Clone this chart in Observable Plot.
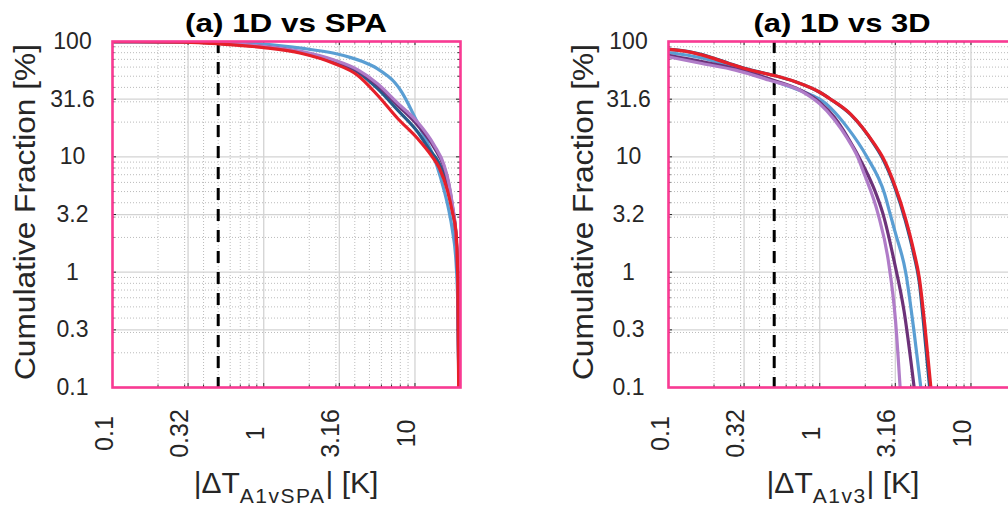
<!DOCTYPE html>
<html><head><meta charset="utf-8">
<script src="https://cdn.jsdelivr.net/npm/d3@7"></script>
<script src="https://cdn.jsdelivr.net/npm/@observablehq/plot@0.6"></script>
<style>
html,body{margin:0;padding:0;background:#fff;}
#wrap{position:relative;width:1008px;height:510px;overflow:hidden;background:#fff;font-family:"Liberation Sans",Arial,sans-serif;}
.panel{position:absolute;top:0;width:480px;height:510px;}
.panel svg{max-width:none !important;}
#overlay{position:absolute;left:0;top:0;pointer-events:none;}
</style></head><body>
<div id="wrap">
  <div id="p1" class="panel" style="left:0px"></div>
  <div id="p2" class="panel" style="left:556px"></div>
  <svg id="overlay" width="1008" height="510"></svg>
</div>
<script>
// ---------- ticks ----------
const xTicks = [0.1, 0.316, 1, 3.16, 10];
const xTickLabels = ["0.1", "0.32", "1", "3.16", "10"];
const yTicks = [0.1, 0.316, 1, 3.16, 10, 31.6, 100];
const yTickLabels = ["0.1", "0.3", "1", "3.2", "10", "31.6", "100"];
const xMinor = [0.2, 0.3, 0.4, 0.5, 0.6, 0.7, 0.8, 0.9, 2, 3, 4, 5, 6, 7, 8, 9, 20];
const yMinor = [0.2, 0.3, 0.4, 0.5, 0.6, 0.7, 0.8, 0.9, 2, 3, 4, 5, 6, 7, 8, 9, 20, 30, 40, 50, 60, 70, 80, 90];
const thresholdX = 0.5;
const xDomain = [0.1, 20];
const yDomain = [0.1, 100];

// ---------- panel (a) 1D vs SPA ----------
const spaLightBlueX = [0.1, 0.3, 0.5, 1, 1.76, 2.92, 3.77, 4.5, 5.66, 6.5, 7.3, 8, 9, 9.9, 11, 12, 13, 14, 15.6, 16.7, 17.7, 18.7, 19.2, 19.5];
const spaLightBlueY = [99.9, 99.6, 98.8, 95, 87.5, 79, 72.5, 67, 58, 51, 44.5, 38, 29, 22.5, 17, 13.5, 10.8, 8.3, 5.1, 3.5, 2.3, 1.2, 0.5, 0.1];
const spaDarkBlueX = [0.1, 0.3, 0.5, 1, 1.76, 2.92, 4.17, 5.66, 7.69, 10.4, 12.8, 13.9, 15.2, 16.4, 17.7, 18.7, 19.2, 19.5];
const spaDarkBlueY = [99.8, 99, 96.5, 90, 80.5, 66, 54.6, 39, 25.4, 16.5, 11, 9.6, 7.6, 5.8, 3.5, 2, 0.8, 0.1];
const spaPurpleX = [0.1, 0.3, 0.5, 1, 1.76, 2.92, 4.17, 5.66, 7.69, 10.4, 13.4, 15.6, 16.7, 17.7, 18.7, 19.25, 19.5];
const spaPurpleY = [99.8, 99, 96.5, 90.5, 81, 68, 56, 41.8, 28, 18.8, 12, 8.1, 5.8, 3.7, 2, 0.7, 0.1];
const spaLavenderX = [0.1, 0.3, 0.5, 1, 1.76, 2.92, 4.17, 5.66, 7.69, 10.4, 13.4, 15.6, 16.7, 17.7, 18.7, 19.25, 19.5];
const spaLavenderY = [99.8, 99.1, 96.8, 91, 82, 69, 57, 43, 29.2, 20, 12.6, 8.4, 6, 3.8, 2, 0.7, 0.1];
const spaRedX = [0.1, 0.3, 0.5, 1, 1.76, 2.92, 4.17, 5.66, 7.69, 10.4, 12.8, 14.5, 16.4, 17.7, 18.7, 19.2, 19.45];
const spaRedY = [99.7, 98.6, 95.5, 88.5, 79, 64.4, 51, 34.2, 21.5, 14.4, 10.3, 8, 5.1, 3.3, 2.2, 0.85, 0.1];

// ---------- panel (a) 1D vs 3D ----------
const d3LightBlueX = [0.1, 0.166, 0.277, 0.375, 0.509, 0.69, 0.916, 1, 1.52, 2.05, 2.68, 2.92, 3.16, 3.7, 4.21, 4.66];
const d3LightBlueY = [80.3, 72, 59.2, 52, 45, 39, 33.5, 31.6, 18, 10, 4.8, 3.2, 2.2, 1, 0.3, 0.1];
const d3DarkBlueX = [0.1, 0.136, 0.184, 0.25, 0.306, 0.375, 0.509, 0.69, 1, 1.18, 1.6, 2.29, 2.6, 3.16, 3.67, 4.2, 4.55, 4.9, 5.33];
const d3DarkBlueY = [86, 81.8, 74.2, 64.8, 59.5, 55.4, 50.5, 44.8, 36.3, 31.6, 23.3, 12.8, 9.7, 5.3, 2.85, 1.4, 0.82, 0.32, 0.1];
const d3PurpleX = [0.1, 0.166, 0.277, 0.5, 0.76, 1, 1.25, 1.52, 1.97, 2.3, 2.62, 3.1, 3.61, 4.21];
const d3PurpleY = [76, 67, 58, 46, 37.5, 29.8, 22, 15, 8.1, 5.2, 3.2, 1.26, 0.46, 0.1];
const d3LavenderX = [0.1, 0.166, 0.277, 0.46, 0.76, 1, 1.25, 1.52, 1.78, 1.97, 2.43, 2.84, 3.17, 3.4];
const d3LavenderY = [73.6, 64.4, 56.5, 46.3, 37, 28.8, 21, 14.5, 10, 7.1, 3.2, 1.26, 0.38, 0.1];
const d3RedX = [0.1, 0.136, 0.184, 0.25, 0.306, 0.375, 0.509, 0.69, 1, 1.18, 1.6, 2.29, 2.6, 3.16, 3.67, 4.2, 4.55, 4.95, 5.43];
const d3RedY = [85.3, 81.3, 73.6, 64.4, 59.2, 55.2, 50.4, 44.7, 36.3, 31.6, 23.5, 13, 10, 5.5, 3.0, 1.5, 0.9, 0.35, 0.1];

const seriesNames = ["S1", "S2", "S3", "S4", "S5"];
const seriesColors = ["#5a9ed3", "#265b8a", "#6c3279", "#b07cc8", "#e6202a"];

function rows(xs, ys, name) { return xs.map((x, i) => ({series: name, x, y: ys[i]})); }

const spaData = [
  ...rows(spaLightBlueX, spaLightBlueY, "S1"),
  ...rows(spaDarkBlueX, spaDarkBlueY, "S2"),
  ...rows(spaPurpleX, spaPurpleY, "S3"),
  ...rows(spaLavenderX, spaLavenderY, "S4"),
  ...rows(spaRedX, spaRedY, "S5")
];
const d3Data = [
  ...rows(d3LightBlueX, d3LightBlueY, "S1"),
  ...rows(d3DarkBlueX, d3DarkBlueY, "S2"),
  ...rows(d3PurpleX, d3PurpleY, "S3"),
  ...rows(d3LavenderX, d3LavenderY, "S4"),
  ...rows(d3RedX, d3RedY, "S5")
];

const W = 480, H = 510, mL = 112, mR = 20, mT = 41, mB = 123;
const fw = W - mL - mR, fh = H - mT - mB;
const pink = "#f93a93", tickCol = "#262626";

function makePanel(data) {
  const marks = [
    Plot.ruleX(xMinor, {x: d => d, stroke: "#aaaaaa", strokeWidth: 0.8, strokeDasharray: "1,2"}),
    Plot.ruleY(yMinor, {y: d => d, stroke: "#aaaaaa", strokeWidth: 0.8, strokeDasharray: "1,2"}),
    Plot.ruleX(xTicks, {x: d => d, stroke: "#d3d3d3", strokeWidth: 1.3}),
    Plot.ruleY(yTicks, {y: d => d, stroke: "#d3d3d3", strokeWidth: 1.3}),
    // inward tick marks
    Plot.tickX(xTicks, {x: d => d, insetTop: fh - 4, stroke: tickCol, strokeWidth: 1}),
    Plot.tickX(xTicks, {x: d => d, insetBottom: fh - 4, stroke: tickCol, strokeWidth: 1}),
    Plot.tickX(xMinor, {x: d => d, insetTop: fh - 2.5, stroke: tickCol, strokeWidth: 1}),
    Plot.tickX(xMinor, {x: d => d, insetBottom: fh - 2.5, stroke: tickCol, strokeWidth: 1}),
    Plot.tickY(yTicks, {y: d => d, insetRight: fw - 4, stroke: tickCol, strokeWidth: 1}),
    Plot.tickY(yTicks, {y: d => d, insetLeft: fw - 4, stroke: tickCol, strokeWidth: 1}),
    Plot.tickY(yMinor, {y: d => d, insetRight: fw - 2.5, stroke: tickCol, strokeWidth: 1}),
    Plot.tickY(yMinor, {y: d => d, insetLeft: fw - 2.5, stroke: tickCol, strokeWidth: 1}),
    Plot.ruleX([thresholdX], {x: d => d, stroke: "#000", strokeWidth: 3, strokeDasharray: "12,9"}),
    Plot.line(data, {x: "x", y: "y", z: "series", stroke: "series", strokeWidth: 3.2, curve: "monotone-x", clip: true}),
    // tick labels
    Plot.text(yTicks, {y: d => d, text: (d, i) => yTickLabels[i], frameAnchor: "left", dx: -40, textAnchor: "middle", fontSize: 23, fill: tickCol, ariaLabel: "ytick"}),
    Plot.text(xTicks, {x: d => d, text: (d, i) => xTickLabels[i], frameAnchor: "bottom", dy: 46, rotate: -90, textAnchor: "middle", fontSize: 25, fill: tickCol, ariaLabel: "xtick"}),
    Plot.frame({stroke: pink, strokeWidth: 2.6})
  ];
  const svg = Plot.plot({
    width: W, height: H,
    marginLeft: mL, marginRight: mR, marginTop: mT, marginBottom: mB,
    x: {type: "log", domain: xDomain, axis: null},
    y: {type: "log", domain: yDomain, axis: null},
    color: {domain: seriesNames, range: seriesColors},
    style: {fontFamily: "'Liberation Sans', Arial, sans-serif", background: "transparent", overflow: "visible", maxWidth: "none"},
    marks
  });
  svg.querySelectorAll('[aria-label="ytick"] text').forEach(t => t.style.letterSpacing = "1.2px");
  return svg;
}

document.getElementById("p1").appendChild(makePanel(spaData));
document.getElementById("p2").appendChild(makePanel(d3Data));

// ---------- titles & axis labels ----------
const ov = d3.select("#overlay").style("font-family", "'Liberation Sans', Arial, sans-serif");
function title(cx, txt, len) {
  ov.append("text").attr("x", cx).attr("y", 32).attr("text-anchor", "middle")
    .attr("font-weight", "bold").attr("font-size", 26).attr("fill", "#000")
    .attr("textLength", len).attr("lengthAdjust", "spacingAndGlyphs").text(txt);
}
function ylabel(bx) {
  ov.append("text").attr("transform", `translate(${bx},212) rotate(-90)`).attr("text-anchor", "middle")
    .attr("font-size", 30).attr("fill", tickCol)
    .attr("textLength", 336).attr("lengthAdjust", "spacingAndGlyphs").text("Cumulative Fraction [%]");
}
function xlabel(cx, sub) {
  const t = ov.append("text").attr("x", cx).attr("y", 493).attr("text-anchor", "middle")
    .attr("font-size", 30).attr("fill", tickCol);
  t.append("tspan").text("|ΔT");
  t.append("tspan").attr("font-size", 21).attr("dy", 10).attr("letter-spacing", 1.5).text(sub);
  t.append("tspan").attr("dy", -10).text("| [K]");
}
title(286, "(a) 1D vs SPA", 202);
title(842, "(a) 1D vs 3D", 177);
ylabel(35);
ylabel(593);
xlabel(286, "A1vSPA");
xlabel(843, "A1v3");
</script>
</body></html>
